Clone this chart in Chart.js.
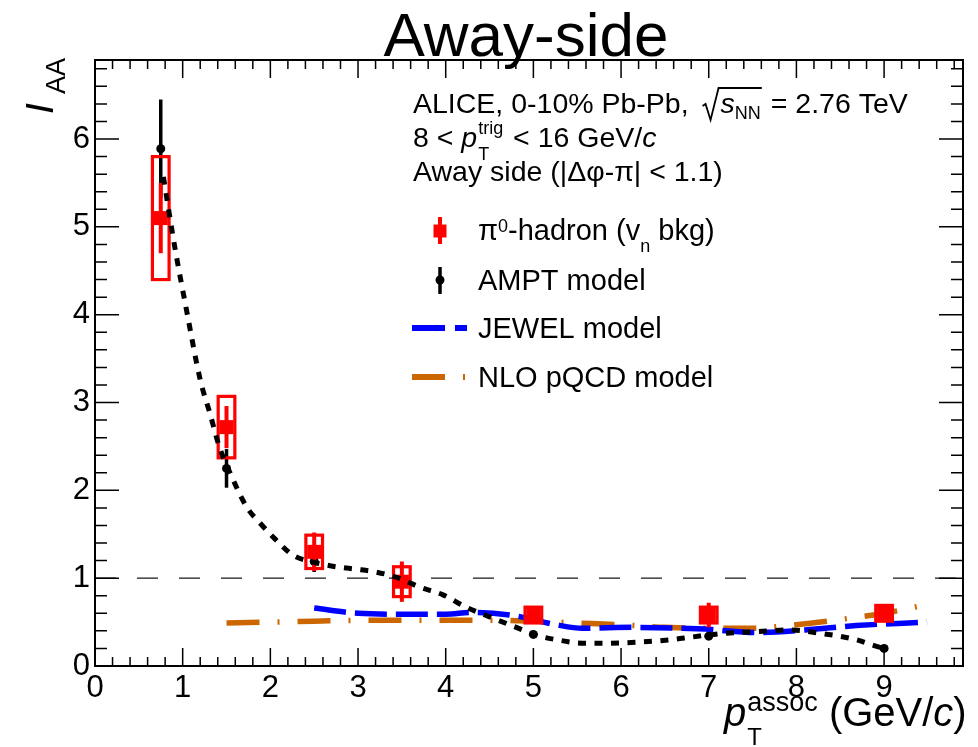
<!DOCTYPE html>
<html>
<head>
<meta charset="utf-8">
<title>Away-side I_AA</title>
<script src="https://cdn.jsdelivr.net/npm/chart.js@4.4.1/dist/chart.umd.min.js"></script>
<style>
    html, body { margin: 0; padding: 0; background: #fff; }
    canvas { display: block; }
</style>
</head>
<body>
<canvas id="chart" width="978" height="747"></canvas>
<script>
(function () {
    "use strict";

    // pi0-hadron I_AA (vn bkg subtracted): value, stat. error, syst. error
    const piX = [0.75, 1.5, 2.5, 3.5, 5, 7, 9];
    const piY = [5.1, 2.72, 1.3, 0.96, 0.58, 0.58, 0.6];
    const piStat = [0.4, 0.24, 0.22, 0.23, 0.06, 0.14, 0.08];
    const piSys = [0.7, 0.35, 0.19, 0.17, 0.09, 0.09, 0.09];

    // AMPT model points and the dotted curve through them
    const amptX = [0.75, 1.5, 2.5, 5, 7, 9];
    const amptY = [5.89, 2.25, 1.19, 0.36, 0.34, 0.2];
    const amptErr = [0.56, 0.22, 0.12, 0.02, 0.02, 0.02];
    const amptCurveX = [0.78, 0.91, 1.05, 1.2, 1.31, 1.42, 1.54, 1.73, 1.88, 2.05, 2.26, 2.5, 2.75, 3.0, 3.2, 3.44, 3.7, 3.97, 4.23, 4.5, 4.88, 5.03, 5.26, 5.56, 5.83, 6.17, 6.58, 6.81, 7.15, 7.54, 7.92, 8.29, 8.68, 8.86, 9.0];
    const amptCurveY = [5.57, 4.77, 4.02, 3.26, 2.88, 2.49, 2.2, 1.81, 1.63, 1.45, 1.26, 1.18, 1.13, 1.1, 1.07, 1.01, 0.9, 0.81, 0.67, 0.56, 0.41, 0.35, 0.3, 0.26, 0.26, 0.27, 0.3, 0.33, 0.37, 0.39, 0.41, 0.37, 0.3, 0.24, 0.2];

    // JEWEL model
    const jewelX = [2.5, 3.0, 3.5, 4.0, 4.3, 4.8, 5.26, 5.56, 6.13, 6.96, 7.54, 8.1, 8.68, 9.49];
    const jewelY = [0.66, 0.6, 0.59, 0.59, 0.61, 0.57, 0.47, 0.43, 0.44, 0.42, 0.38, 0.41, 0.46, 0.5];

    // NLO pQCD model
    const nloX = [1.5, 2.0, 2.5, 3.0, 3.5, 4.0, 4.5, 5.0, 5.5, 6.0, 6.5, 7.0, 7.5, 8.0, 8.5, 9.0, 9.4];
    const nloY = [0.49, 0.5, 0.51, 0.52, 0.52, 0.52, 0.52, 0.51, 0.49, 0.47, 0.44, 0.43, 0.43, 0.47, 0.53, 0.6, 0.68];

    // unity reference line
    const unityX = [0, 9.9];
    const unityY = [1, 1];

    // axis ranges and tick labels
    const xRange = [0, 9.9];
    const yRange = [0, 6.9];
    const xTickLabels = ["0", "1", "2", "3", "4", "5", "6", "7", "8", "9"];
    const yTickLabels = ["0", "1", "2", "3", "4", "5", "6"];
    const minorStep = 0.2;
    const sysHalfWidth = 0.095;

    const FONT = '"Liberation Sans", Arial, Helvetica, sans-serif';
    const RED = "#ff0000";
    const BLUE = "#0000ff";
    const ORANGE = "#cc6600";

    Chart.defaults.font.family = FONT;
    Chart.defaults.color = "#000";

    const toXY = (xs, ys) => xs.map((x, i) => ({ x: x, y: ys[i] }));

    // draws a row of text pieces (for sub/superscripts), returns end x
    function drawRuns(ctx, x, y, runs) {
        let cx = x;
        runs.forEach((r) => {
            ctx.font = (r.italic ? "italic " : "") + r.size + "px " + FONT;
            ctx.fillText(r.text, cx, y + (r.dy || 0));
            const w = ctx.measureText(r.text).width;
            if (!r.stack) cx += w + (r.gap || 0);
        });
        return cx;
    }

    // error bars and syst boxes, right before the dataset's markers
    const errorBars = {
        id: "errorBars",
        beforeDatasetDraw(chart, args) {
            const ds = chart.data.datasets[args.index];
            if (!ds.errY) return;
            const { ctx, scales: { x, y } } = chart;
            ctx.save();
            ctx.strokeStyle = ds.backgroundColor;
            ds.data.forEach((p, i) => {
                const px = x.getPixelForValue(p.x);
                if (ds.sysY) {
                    const l = x.getPixelForValue(p.x - sysHalfWidth);
                    const r = x.getPixelForValue(p.x + sysHalfWidth);
                    const t = y.getPixelForValue(p.y + ds.sysY[i]);
                    const b = y.getPixelForValue(p.y - ds.sysY[i]);
                    ctx.lineWidth = 3.2;
                    ctx.strokeRect(l, t, r - l, b - t);
                }
                ctx.lineWidth = ds.errWidth;
                ctx.beginPath();
                ctx.moveTo(px, y.getPixelForValue(p.y + ds.errY[i]));
                ctx.lineTo(px, y.getPixelForValue(p.y - ds.errY[i]));
                ctx.stroke();
            });
            ctx.restore();
        },
    };

    // ROOT style frame with inward ticks on all four sides
    const frame = {
        id: "frame",
        afterDatasetsDraw(chart) {
            const { ctx, chartArea: a, scales: { x, y } } = chart;
            ctx.save();
            ctx.strokeStyle = "#000";
            ctx.lineWidth = 1.5;
            ctx.beginPath();
            for (let i = 0; i * minorStep <= xRange[1] + 1e-9; i++) {
                const px = x.getPixelForValue(i * minorStep);
                const len = i % 5 === 0 ? 18 : 9;
                ctx.moveTo(px, a.bottom);
                ctx.lineTo(px, a.bottom - len);
                ctx.moveTo(px, a.top);
                ctx.lineTo(px, a.top + len);
            }
            for (let i = 0; i * minorStep <= yRange[1] + 1e-9; i++) {
                const py = y.getPixelForValue(i * minorStep);
                const len = i % 5 === 0 ? 24 : 12;
                ctx.moveTo(a.left, py);
                ctx.lineTo(a.left + len, py);
                ctx.moveTo(a.right, py);
                ctx.lineTo(a.right - len, py);
            }
            ctx.stroke();
            ctx.lineWidth = 2;
            ctx.strokeRect(a.left, a.top, a.right - a.left, a.bottom - a.top);
            ctx.restore();
        },
    };

    // title, axis titles, info text and legend
    const texts = {
        id: "texts",
        afterDraw(chart) {
            const ctx = chart.ctx;
            ctx.save();
            ctx.fillStyle = "#000";
            ctx.textBaseline = "alphabetic";

            ctx.textAlign = "center";
            ctx.font = "62px " + FONT;
            ctx.fillText("Away-side", 526, 56);
            ctx.textAlign = "left";

            // y title I_AA
            ctx.save();
            ctx.translate(53, 114);
            ctx.rotate(-Math.PI / 2);
            drawRuns(ctx, 0, 0, [
                { text: "I", size: 39, italic: true },
            ]);
            drawRuns(ctx, 20, 12, [{ text: "AA", size: 27 }]);
            ctx.restore();

            // x title
            drawRuns(ctx, 724, 726, [
                { text: "p", size: 40, italic: true, gap: 1 },
                { text: "T", size: 24, dy: 19, stack: true },
                { text: "assoc", size: 27, dy: -15 },
                { text: " (GeV/", size: 40 },
                { text: "c", size: 40, italic: true },
                { text: ")", size: 40 },
            ]);

            // info text
            const fs = 28.5;
            const cx = drawRuns(ctx, 413, 113, [{ text: "ALICE, 0-10% Pb-Pb, ", size: fs }]);
            const s0 = cx + 9;
            const endNN = drawRuns(ctx, s0 + 15, 113, [
                { text: "s", size: fs, italic: true },
                { text: "NN", size: 18, dy: 6 },
            ]);
            ctx.strokeStyle = "#000";
            ctx.lineWidth = 1.8;
            ctx.beginPath();
            ctx.moveTo(s0 - 3, 106);
            ctx.lineTo(s0, 104);
            ctx.lineTo(s0 + 5, 120);
            ctx.lineTo(s0 + 13, 88);
            ctx.lineTo(endNN + 1, 88);
            ctx.stroke();
            drawRuns(ctx, endNN + 2, 113, [{ text: " = 2.76 TeV", size: fs }]);

            drawRuns(ctx, 413, 147, [
                { text: "8 < ", size: fs },
                { text: "p", size: fs, italic: true, gap: 1 },
                { text: "T", size: 18, dy: 13, stack: true },
                { text: "trig", size: 18, dy: -13, gap: 2 },
                { text: " < 16 GeV/", size: fs },
                { text: "c", size: fs, italic: true },
            ]);
            drawRuns(ctx, 413, 181, [{ text: "Away side (|\u0394\u03C6-\u03C0| < 1.1)", size: fs }]);

            // legend
            const lx = 478;
            drawRuns(ctx, lx, 240, [
                { text: "\u03C0", size: 29 },
                { text: "0", size: 18, dy: -8 },
                { text: "-hadron (v", size: 29 },
                { text: "n", size: 18, dy: 12 },
                { text: " bkg)", size: 29 },
            ]);
            drawRuns(ctx, lx, 290, [{ text: "AMPT model", size: 29 }]);
            drawRuns(ctx, lx, 338, [{ text: "JEWEL model", size: 29 }]);
            drawRuns(ctx, lx, 387, [{ text: "NLO pQCD model", size: 29 }]);

            ctx.strokeStyle = RED;
            ctx.lineWidth = 4;
            ctx.beginPath();
            ctx.moveTo(440, 217);
            ctx.lineTo(440, 244);
            ctx.stroke();
            ctx.fillStyle = RED;
            ctx.fillRect(433.5, 224.5, 13, 13);

            ctx.strokeStyle = "#000";
            ctx.fillStyle = "#000";
            ctx.lineWidth = 3.5;
            ctx.beginPath();
            ctx.moveTo(440, 267);
            ctx.lineTo(440, 294);
            ctx.stroke();
            ctx.beginPath();
            ctx.arc(440, 280, 4.5, 0, Math.PI * 2);
            ctx.fill();

            ctx.lineWidth = 6;
            ctx.strokeStyle = BLUE;
            ctx.setLineDash([33, 10]);
            ctx.beginPath();
            ctx.moveTo(412, 328);
            ctx.lineTo(467, 328);
            ctx.stroke();

            ctx.strokeStyle = ORANGE;
            ctx.setLineDash([33, 18, 2, 18]);
            ctx.beginPath();
            ctx.moveTo(412, 377);
            ctx.lineTo(466, 377);
            ctx.stroke();
            ctx.restore();
        },
    };

    const ctx = document.getElementById("chart").getContext("2d");
    new Chart(ctx, {
        type: "scatter",
        data: {
            datasets: [
                {
                    label: "unity",
                    data: toXY(unityX, unityY),
                    showLine: true,
                    borderColor: "#4a4a4a",
                    borderWidth: 1.6,
                    borderDash: [21, 21],
                    pointRadius: 0,
                    order: 7,
                },
                {
                    label: "NLO pQCD model",
                    data: toXY(nloX, nloY),
                    showLine: true,
                    borderColor: ORANGE,
                    borderWidth: 5.5,
                    borderDash: [33, 18, 2, 18],
                    borderCapStyle: "butt",
                    cubicInterpolationMode: "monotone",
                    pointRadius: 0,
                    order: 6,
                },
                {
                    label: "JEWEL model",
                    data: toXY(jewelX, jewelY),
                    showLine: true,
                    borderColor: BLUE,
                    borderWidth: 5.5,
                    borderDash: [32, 9],
                    cubicInterpolationMode: "monotone",
                    pointRadius: 0,
                    order: 5,
                },
                {
                    label: "AMPT model",
                    data: toXY(amptX, amptY),
                    errY: amptErr,
                    errWidth: 3.5,
                    backgroundColor: "#000",
                    borderColor: "#000",
                    pointStyle: "circle",
                    pointRadius: 4.5,
                    pointBorderWidth: 0,
                    order: 4,
                },
                {
                    label: "pi0-hadron (vn bkg)",
                    data: toXY(piX, piY),
                    errY: piStat,
                    sysY: piSys,
                    errWidth: 4,
                    backgroundColor: RED,
                    borderColor: RED,
                    pointStyle: "rect",
                    pointRadius: 9.9,
                    pointBorderWidth: 0,
                    order: 3,
                },
                {
                    label: "AMPT curve",
                    data: toXY(amptCurveX, amptCurveY),
                    showLine: true,
                    borderColor: "#000",
                    borderWidth: 5,
                    borderDash: [8, 8.5],
                    cubicInterpolationMode: "monotone",
                    pointRadius: 0,
                    order: 1,
                },
            ],
        },
        options: {
            responsive: false,
            devicePixelRatio: 1,
            animation: false,
            events: [],
            layout: { padding: { top: 60, right: 15, left: 0, bottom: 0 } },
            plugins: {
                legend: { display: false },
                tooltip: { enabled: false },
                title: { display: false },
            },
            scales: {
                x: {
                    type: "linear",
                    min: xRange[0],
                    max: xRange[1],
                    afterFit: (scale) => { scale.height = 81; },
                    grid: { display: false, drawTicks: false },
                    border: { display: false },
                    ticks: {
                        stepSize: 1,
                        includeBounds: false,
                        autoSkip: false,
                        maxRotation: 0,
                        padding: 4,
                        font: { size: 31 },
                        color: "#000",
                        callback: (v) => xTickLabels[v] ?? "",
                    },
                },
                y: {
                    type: "linear",
                    min: yRange[0],
                    max: yRange[1],
                    afterFit: (scale) => { scale.width = 95; },
                    grid: { display: false, drawTicks: false },
                    border: { display: false },
                    ticks: {
                        stepSize: 1,
                        includeBounds: false,
                        autoSkip: false,
                        padding: 5,
                        font: { size: 31 },
                        color: "#000",
                        callback: (v) => yTickLabels[v] ?? "",
                    },
                },
            },
        },
        plugins: [errorBars, frame, texts],
    });
})();
</script>
</body>
</html>
